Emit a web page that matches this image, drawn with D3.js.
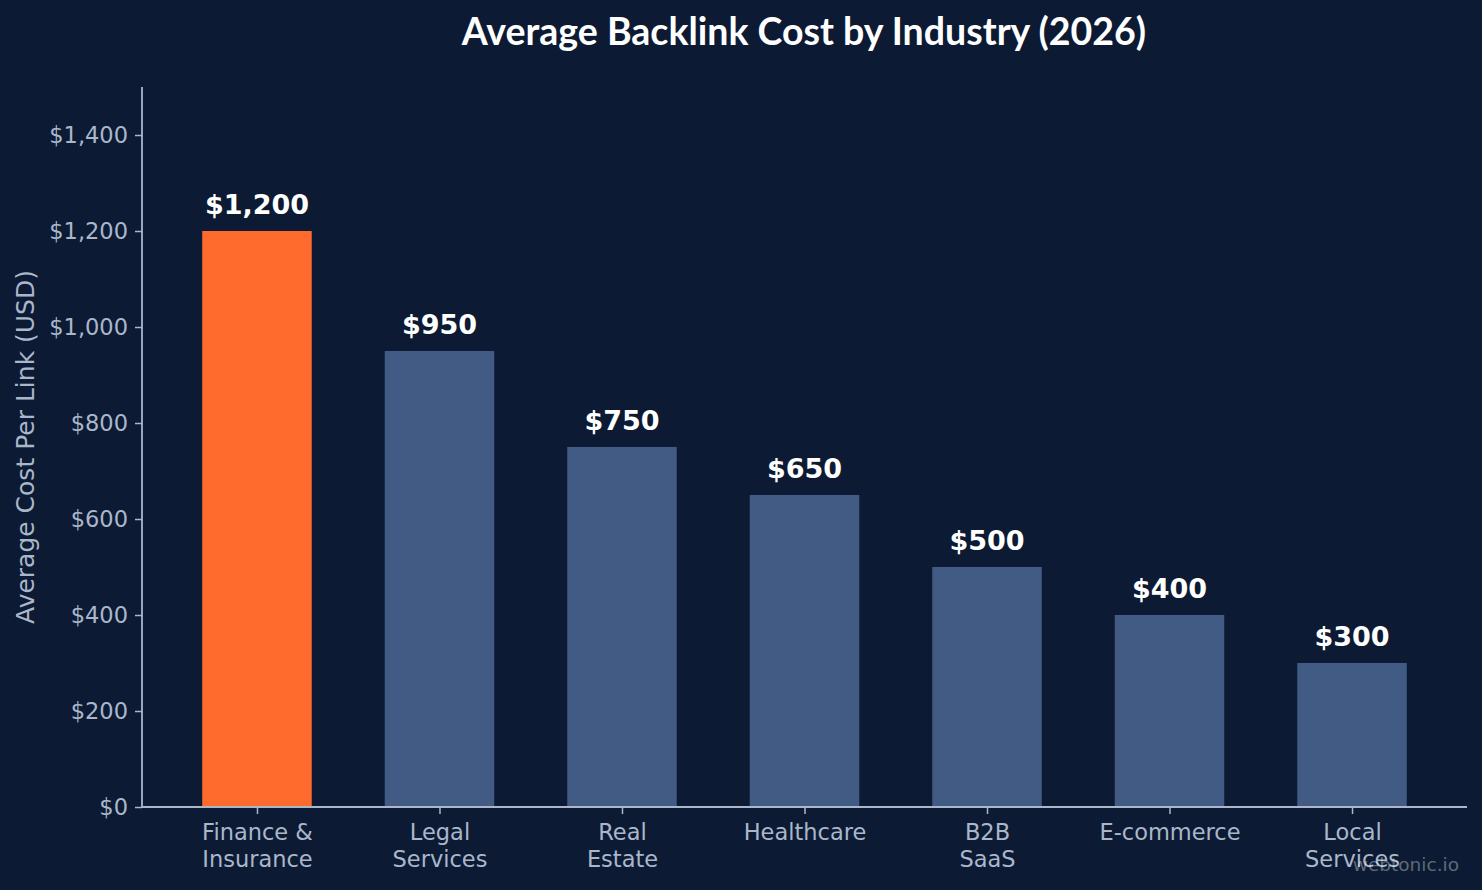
<!DOCTYPE html>
<html>
<head>
<meta charset="utf-8">
<script src="https://cdn.jsdelivr.net/npm/d3@7"></script>
<style>
  body { margin: 0; background: #0c1b33; }
  svg { display: block; }
</style>
</head>
<body>
<div id="chart"></div>
<script>
// data
const industries = [["Finance &", "Insurance"], ["Legal", "Services"], ["Real", "Estate"], ["Healthcare"], ["B2B", "SaaS"], ["E-commerce"], ["Local", "Services"]];
const costs = [1200, 950, 750, 650, 500, 400, 300];
const barColors = ["#ff6b2c", "#415b85", "#415b85", "#415b85", "#415b85", "#415b85", "#415b85"];
const yTicks = [0, 200, 400, 600, 800, 1000, 1200, 1400];

const W = 1482, H = 890;
const margin = {top: 87, right: 15, bottom: 83, left: 142};
const width = W - margin.left - margin.right;
const height = H - margin.top - margin.bottom;
const axisColor = "#aab7cb";

const svg = d3.select("#chart").append("svg")
  .attr("width", W)
  .attr("height", H);

svg.append("rect").attr("width", W).attr("height", H).attr("fill", "#0c1b33");

svg.append("text")
  .attr("x", 804)
  .attr("y", 45)
  .attr("text-anchor", "middle")
  .attr("font-family", "Lato")
  .attr("font-weight", "bold")
  .attr("font-size", 37.5)
  .attr("fill", "#ffffff")
  .text("Average Backlink Cost by Industry (2026)");

const g = svg.append("g")
  .attr("transform", "translate(" + margin.left + "," + margin.top + ")");

// matplotlib-like positions: bars at 0..n-1, width 0.6, 5% margin
const n = costs.length;
const barW = 0.6;
const lo = -barW / 2, hi = n - 1 + barW / 2;
const pad = (hi - lo) * 0.05;
const xScale = d3.scaleLinear().domain([lo - pad, hi + pad]).range([0, width]);
const yScale = d3.scaleLinear().domain([0, 1500]).range([height, 0]);

g.selectAll(".bar").data(costs)
  .enter()
  .append("rect")
  .attr("class", "bar")
  .attr("x", (d, i) => xScale(i - barW / 2))
  .attr("width", (d, i) => xScale(i + barW / 2) - xScale(i - barW / 2))
  .attr("y", d => yScale(d))
  .attr("height", d => yScale(0) - yScale(d))
  .attr("fill", (d, i) => barColors[i]);

g.selectAll(".val").data(costs)
  .enter()
  .append("text")
  .attr("class", "val")
  .attr("x", (d, i) => xScale(i))
  .attr("y", d => yScale(d) - 17)
  .attr("text-anchor", "middle")
  .attr("font-family", "DejaVu Sans")
  .attr("font-weight", "bold")
  .attr("font-size", 27)
  .attr("fill", "#ffffff")
  .text(d => "$" + d3.format(",")(d));

// y axis
const yAxis = g.append("g")
  .call(d3.axisLeft(yScale).tickValues(yTicks).tickSize(7).tickPadding(7)
    .tickFormat(d => "$" + d3.format(",")(d)));
yAxis.select(".domain").attr("stroke", axisColor).attr("stroke-width", 1.8)
  .attr("d", "M0," + height + "V0");
yAxis.selectAll(".tick line").attr("stroke", axisColor).attr("stroke-width", 1.5);
yAxis.selectAll(".tick text").attr("fill", axisColor)
  .attr("font-family", "DejaVu Sans").attr("font-size", 22.5);

// x axis
const xAxis = g.append("g")
  .attr("transform", "translate(0," + height + ")")
  .call(d3.axisBottom(xScale).tickValues(d3.range(n)).tickSize(7).tickFormat(""));
xAxis.select(".domain").attr("stroke", axisColor).attr("stroke-width", 1.8)
  .attr("d", "M0,0H" + width);
xAxis.selectAll(".tick line").attr("stroke", axisColor).attr("stroke-width", 1.5);
xAxis.selectAll(".tick").each(function(d) {
  const t = d3.select(this).append("text")
    .attr("fill", axisColor)
    .attr("font-family", "DejaVu Sans")
    .attr("font-size", 22.5)
    .attr("text-anchor", "middle");
  industries[d].forEach((line, k) => {
    t.append("tspan").attr("x", 0).attr("y", 33 + k * 27).text(line);
  });
});

svg.append("text")
  .attr("transform", "translate(34," + (margin.top + height / 2) + ") rotate(-90)")
  .attr("text-anchor", "middle")
  .attr("font-family", "DejaVu Sans")
  .attr("font-size", 25)
  .attr("fill", axisColor)
  .text("Average Cost Per Link (USD)");

svg.append("text")
  .attr("x", 1459)
  .attr("y", 871)
  .attr("text-anchor", "end")
  .attr("font-family", "DejaVu Sans")
  .attr("font-size", 18.5)
  .attr("fill", "#ffffff")
  .attr("fill-opacity", 0.35)
  .text("webtonic.io");
</script>
</body>
</html>
